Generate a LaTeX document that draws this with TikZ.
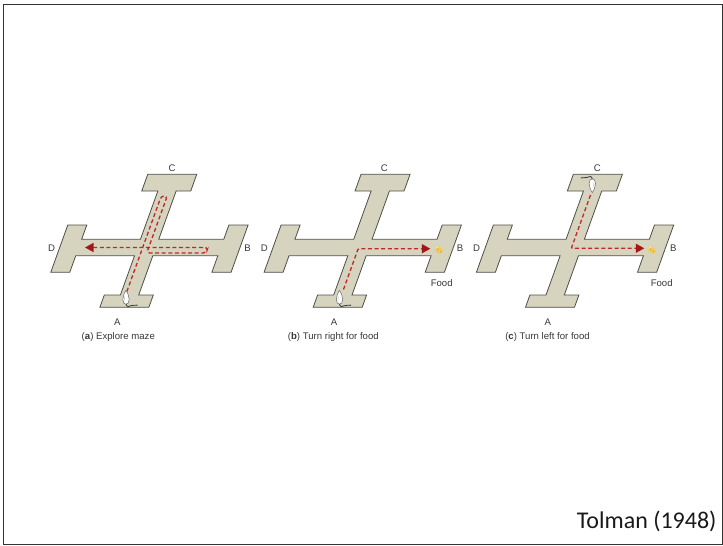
\documentclass[tikz,border=0pt]{standalone}
\usepackage{fontspec}
\setmainfont{Liberation Sans}
\newfontfamily\citefont{Carlito}
\usetikzlibrary{arrows.meta}

\definecolor{mazefill}{RGB}{214,212,191}
\definecolor{mazeline}{RGB}{78,78,72}
\definecolor{trail}{RGB}{192,40,40}
\definecolor{trailhead}{RGB}{165,22,26}
\definecolor{labelgray}{RGB}{55,55,55}
\definecolor{cheese}{RGB}{242,200,88}
\definecolor{cheesedark}{RGB}{214,160,50}
\definecolor{framegray}{RGB}{50,50,50}

\tikzset{
  maze/.style={fill=mazefill, draw=mazeline, line width=0.8pt, line join=miter},
  trail/.style={draw=trail, line width=1.3pt, dash pattern=on 4pt off 2.6pt,
                rounded corners=3pt},
  trailtip/.style={-{Triangle[length=8.5pt,width=9pt,color=trailhead]}},
  lbl/.style={font=\fontsize{9.6}{11}\selectfont, text=labelgray, inner sep=0pt},
  caption/.style={lbl},
  % the cross-shaped maze, unslanted; origin on the arm's centre line
  mazepic/.pic={
    \path[maze] (121.4,-73.2) -- (170.4,-73.2) -- (170.4,-56.5) -- (155.8,-56.5)
      -- (155.8,-8.2) -- (220.8,-8.2) -- (220.8,-22.5) -- (240,-22.5)
      -- (240,24.8) -- (220.8,24.8) -- (220.8,8.2) -- (155.8,8.2)
      -- (155.8,47.5) -- (170.4,47.5) -- (170.4,59.8) -- (121.4,59.8)
      -- (121.4,47.5) -- (137.5,47.5) -- (137.5,8.2) -- (78.7,8.2)
      -- (78.7,24.8) -- (59.7,24.8) -- (59.7,-22.5) -- (78.7,-22.5)
      -- (78.7,-8.2) -- (137.5,-8.2) -- (137.5,-56.5) -- (121.4,-56.5) -- cycle;
  },
  % a rat seen from above, head pointing to negative y
  ratpic/.pic={
    \draw[fill=white, draw=gray!80!black, line width=0.5pt]
      (0,-7) .. controls (1.5,-5) and (3.2,-1.5) .. (3.2,2)
      .. controls (3.1,5) and (1.8,6.7) .. (0,6.7)
      .. controls (-1.8,6.7) and (-3.1,5) .. (-3.2,2)
      .. controls (-3.2,-1.5) and (-1.5,-5) .. cycle;
    \draw[gray!60, line width=0.4pt] (-1.2,-1) -- (-1.6,3);
    \draw[black!80, line width=0.8pt]
      (0,6.5) .. controls (0.5,9.8) and (3,9.3) .. (5,8.2)
      .. controls (7,7.1) and (9,8.3) .. (11.5,7.6);
  },
  % a wedge of cheese
  cheesepic/.pic={
    \fill[cheese, rounded corners=1.5pt] (-4.5,-1.5) -- (-1.5,-4.5) -- (4.5,1.5)
      -- (3.5,4) -- (-3,3) -- cycle;
    \fill[cheesedark] (-1.5,-0.5) circle (0.9pt) (1.5,2) circle (0.7pt);
    \fill[white, opacity=0.5] (-3.5,-1.2) -- (-1.5,-3.5) -- (-0.5,-2.5) -- (-2.5,-0.3) -- cycle;
  }
}

\begin{document}
\begin{tikzpicture}[x=1pt, y=-1pt]
  \useasboundingbox (0,0) rectangle (723,546);
  \draw[framegray, line width=1pt] (3.5,4) rectangle (722,544);

  % ---------- (a) explore maze ----------
  \begin{scope}[shift={(0,247.5)}, xslant=0.36]
    \pic[transform shape] {mazepic};
    \coordinate (a0) at (142.7,44);
    \coordinate (a1) at (142.7,-51.5);
    \coordinate (a2) at (148.7,-51.5);
    \coordinate (a3) at (148.7,5.5);
    \coordinate (a4) at (208,5.5);
    \coordinate (a5) at (208,0);
    \coordinate (a6) at (85,0);
    \draw[trail, trailtip] (a0) -- (a1) -- (a2) -- (a3) -- (a4) -- (a5) -- (a6);
  \end{scope}
  \pic at (126,297.5) {ratpic};
  \node[lbl] (aC) at (172,168.3) {C};
  \node[lbl] (aD) at (51.7,248.3) {D};
  \node[lbl] (aB) at (247.5,248.3) {B};
  \node[lbl] (aA) at (117.3,321.7) {A};
  \node[caption] (acap) at (118.3,337.3) {(\textbf{a}) Explore maze};

  % ---------- (b) turn right for food ----------
  \begin{scope}[shift={(213.3,247.5)}, xslant=0.36]
    \pic[transform shape] {mazepic};
    \coordinate (b0) at (145.3,42);
    \coordinate (b1) at (145.3,1.2);
    \coordinate (b2) at (217.5,1.2);
    \draw[trail, trailtip, rounded corners=1pt] (b0) -- (b1) -- (b2);
  \end{scope}
  \pic at (339.5,297.5) {ratpic};
  \pic at (439,249.5) {cheesepic};
  \node[lbl] (bC) at (384.3,168.3) {C};
  \node[lbl] (bD) at (264.3,248.1) {D};
  \node[lbl] (bB) at (460,248.1) {B};
  \node[lbl] (bF) at (441.7,283.3) {Food};
  \node[lbl] (bA) at (334,321.7) {A};
  \node[caption] (bcap) at (333.3,337.3) {(\textbf{b}) Turn right for food};

  % ---------- (c) turn left for food ----------
  \begin{scope}[shift={(425.6,247.5)}, xslant=0.36]
    \pic[transform shape] {mazepic};
    \coordinate (c0) at (146,-52.5);
    \coordinate (c1) at (146,0.8);
    \coordinate (c2) at (219,0.8);
    \draw[trail, trailtip, rounded corners=1pt] (c0) -- (c1) -- (c2);
  \end{scope}
  \pic[rotate=180] at (592.3,185.5) {ratpic};
  \pic at (652,249.5) {cheesepic};
  \node[lbl] (cC) at (597.3,168.3) {C};
  \node[lbl] (cD) at (476.7,248.3) {D};
  \node[lbl] (cB) at (673.3,248.3) {B};
  \node[lbl] (cF) at (661.7,283.3) {Food};
  \node[lbl] (cA) at (547.7,321.7) {A};
  \node[caption] (ccap) at (547.5,337.3) {(\textbf{c}) Turn left for food};

  % citation
  \node[anchor=base east, inner sep=0pt, font=\citefont\fontsize{24}{28}\selectfont,
        text=black!90] (cite) at (716.7,528.5) {Tolman (1948)};
\end{tikzpicture}
\end{document}
